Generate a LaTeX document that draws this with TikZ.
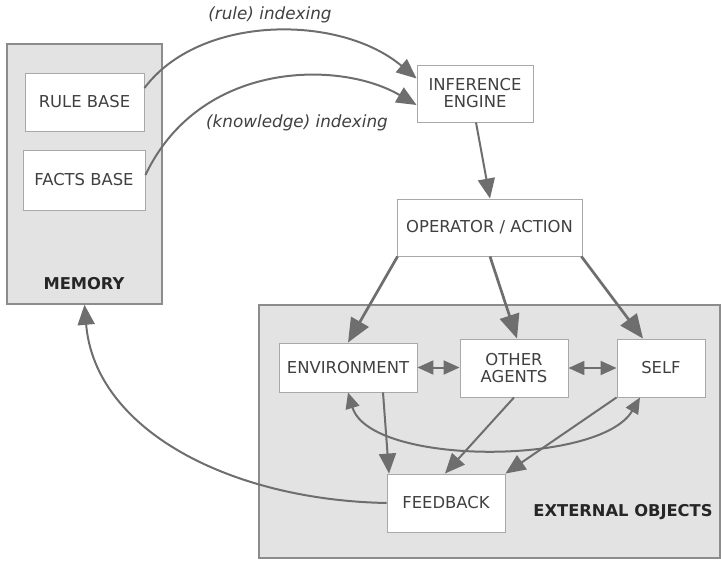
\documentclass[tikz,border=0pt]{standalone}
\usepackage{fontspec}
\setmainfont{DejaVu Sans}
\usetikzlibrary{arrows.meta}
\definecolor{linegray}{HTML}{6E6E6E}
\definecolor{boxedge}{HTML}{A8A8A8}
\definecolor{panelfill}{HTML}{E3E3E3}
\definecolor{paneledge}{HTML}{8C8C8C}
\definecolor{txt}{HTML}{404040}
\tikzset{
  headA/.tip={Triangle[length=20pt,width=17pt]},
  headB/.tip={Triangle[length=24pt,width=20pt]},
  headC/.tip={Triangle[length=16pt,width=14pt]}}
\begin{document}
\begin{tikzpicture}[x=1pt,y=-1pt,
  panel/.style={draw=paneledge,line width=1.6pt,fill=panelfill,inner sep=0pt},
  unit/.style={draw=boxedge,line width=0.9pt,fill=white,text=txt,align=center,
    inner sep=0pt,font=\fontsize{16.4}{19}\selectfont},
  caption/.style={text=black!85,font=\fontsize{16.3}{19}\selectfont\bfseries},
  edgelabel/.style={text=txt,font=\fontsize{16.8}{19}\selectfont\itshape},
  link/.style={draw=linegray,line width=2pt,-headA},
  biglink/.style={draw=linegray,line width=2.7pt,-headB},
  twoway/.style={draw=linegray,line width=2pt,headC-headC}]
\useasboundingbox (0,0) rectangle (721,563);

% containers
\node[panel,minimum width=155pt,minimum height=260pt] (memory) at (84.5,174) {};
\node[panel,minimum width=461pt,minimum height=253pt] (external) at (489.5,431.5) {};
\node[caption] (memlabel) at (84,284) {MEMORY};
\node[caption] (extlabel) at (623,512) {EXTERNAL OBJECTS};

% memory contents
\node[unit,minimum width=119pt,minimum height=58pt] (rule) at (84.5,102) {RULE BASE};
\node[unit,minimum width=122pt,minimum height=60pt] (facts) at (84,180) {FACTS BASE};

% reasoning chain
\node[unit,minimum width=116pt,minimum height=57pt] (engine) at (475,93.5) {INFERENCE\\[-2pt]ENGINE};
\node[unit,minimum width=185pt,minimum height=57pt] (operator) at (489.5,227.5) {OPERATOR / ACTION};

% external objects
\node[unit,minimum width=138pt,minimum height=49pt] (env) at (348,367.5) {ENVIRONMENT};
\node[unit,minimum width=108pt,minimum height=58pt] (agents) at (514,368) {OTHER\\[-2pt]AGENTS};
\node[unit,minimum width=88pt,minimum height=58pt] (self) at (661,368) {SELF};
\node[unit,minimum width=118pt,minimum height=58pt] (feedback) at (446,503) {FEEDBACK};

% indexing into the inference engine
\draw[link] ([yshift=14pt]rule.east) .. controls (200,14) and (340,14) .. ([yshift=15pt]engine.west);
\draw[link] ([yshift=5pt]facts.east) .. controls (200,60) and (340,60) .. ([yshift=-11.5pt]engine.west);
\node[edgelabel] (rulelab) at (270,15) {(rule) indexing};
\node[edgelabel] (knowlab) at (297,123) {(knowledge) indexing};

% engine to action
\draw[link] ([xshift=1pt]engine.south) -- ([xshift=0.5pt]operator.north);

% action onto the external objects
\draw[biglink] ([xshift=1pt]operator.south west) -- (env.north);
\draw[biglink] ([xshift=0.5pt]operator.south) -- ([xshift=3pt]agents.north);
\draw[biglink] ([xshift=-1pt]operator.south east) -- ([xshift=-18pt]self.north);

% interactions between objects
\draw[twoway] (env.east) -- (agents.west |- env.east);
\draw[twoway] (agents.east) -- (self.west);
\draw[twoway] (env.south) .. controls (370,466) and (600,466) .. ([xshift=-21pt]self.south);

% objects to feedback
\draw[link] ([xshift=35pt]env.south) -- ([xshift=-57pt]feedback.north);
\draw[link] (agents.south) -- ([xshift=-1pt]feedback.north);
\draw[link] (self.south west) -- (feedback.north east);

% feedback back into memory
\draw[link] (feedback.west) .. controls (230,500) and (95,430) .. (memory.south);
\end{tikzpicture}
\end{document}
